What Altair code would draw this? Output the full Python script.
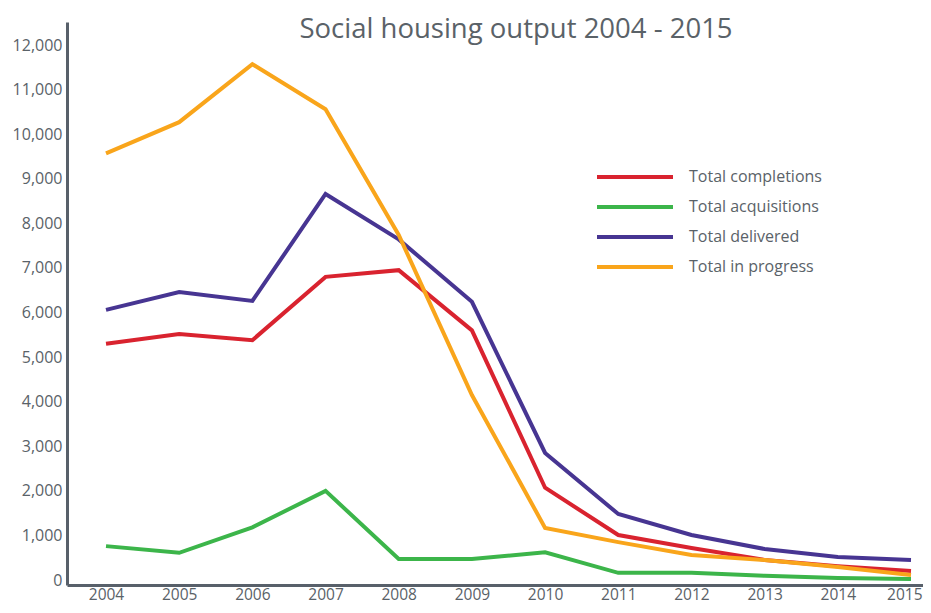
import altair as alt
import pandas as pd

years = [2004, 2005, 2006, 2007, 2008, 2009, 2010, 2011, 2012, 2013, 2014, 2015]
series_names = ["Total completions", "Total acquisitions", "Total delivered", "Total in progress"]
completions = [5300, 5520, 5380, 6800, 6950, 5600, 2070, 1010, 720, 450, 310, 200]
acquisitions = [760, 610, 1180, 2000, 470, 470, 620, 160, 160, 95, 45, 20]
delivered = [6060, 6460, 6260, 8660, 7640, 6240, 2850, 1480, 1010, 695, 515, 450]
in_progress = [9570, 10270, 11570, 10560, 7740, 4150, 1170, 850, 560, 450, 290, 110]
colors = ["#d9232f", "#3cb54a", "#473592", "#f9a51b"]

rows = []
for name, vals in zip(series_names, [completions, acquisitions, delivered, in_progress]):
    for y, v in zip(years, vals):
        rows.append({"Year": y, "Value": v, "Series": name})
df = pd.DataFrame(rows)
legend_df = pd.DataFrame({"Series": series_names})

axis_color = "#58606a"
text_color = "#5a6268"
font = "Open Sans"

color_scale = alt.Scale(domain=series_names, range=colors)

lines = alt.Chart(df).mark_line(strokeWidth=4, strokeJoin="miter").encode(
    x=alt.X("Year:Q",
            scale=alt.Scale(domain=[2003.467, 2015.164], nice=False, zero=False),
            axis=alt.Axis(values=years, format="d", title=None, grid=False,
                          domainColor=axis_color, domainWidth=3, ticks=False,
                          labelFontSize=15.5, labelColor=text_color, labelFont=font,
                          labelPadding=2, labelFlush=15, labelFlushOffset=11)),
    y=alt.Y("Value:Q",
            scale=alt.Scale(domain=[-112, 12517], nice=False, zero=False),
            axis=alt.Axis(values=list(range(0, 12001, 1000)), format=",d", title=None, grid=False,
                          domainColor=axis_color, domainWidth=3, ticks=False,
                          labelFontSize=16, labelColor=text_color, labelFont=font,
                          labelPadding=5)),
    color=alt.Color("Series:N", scale=color_scale, legend=None),
    order=alt.Order("Year:Q"),
)

legend_y = alt.Y("Series:N", scale=alt.Scale(type="point", domain=series_names,
                                             range=[155, 245], padding=0), axis=None)

legend_lines = alt.Chart(legend_df).mark_rule(strokeWidth=4).encode(
    x=alt.value(530), x2=alt.value(606),
    y=legend_y,
    color=alt.Color("Series:N", scale=color_scale, legend=None),
)

legend_text = alt.Chart(legend_df).mark_text(
    align="left", baseline="middle", fontSize=16, font=font, color=text_color
).encode(
    x=alt.value(622),
    y=legend_y,
    text="Series:N",
)

chart = alt.layer(lines, legend_lines, legend_text).resolve_scale(
    y="independent"
).properties(
    width=856,
    height=563,
    padding={"left": 59, "top": 14, "right": 0, "bottom": 19},
    autosize=alt.AutoSizeParams(type="none"),
    title=alt.TitleParams("Social housing output 2004 - 2015", fontSize=27.5, font=font,
                          fontWeight="normal", color=text_color, anchor="middle",
                          dx=21, dy=23, offset=-20, baseline="alphabetic"),
).configure_view(stroke=None)

chart.save("out.html", embed_options={"renderer": "svg", "actions": False})
